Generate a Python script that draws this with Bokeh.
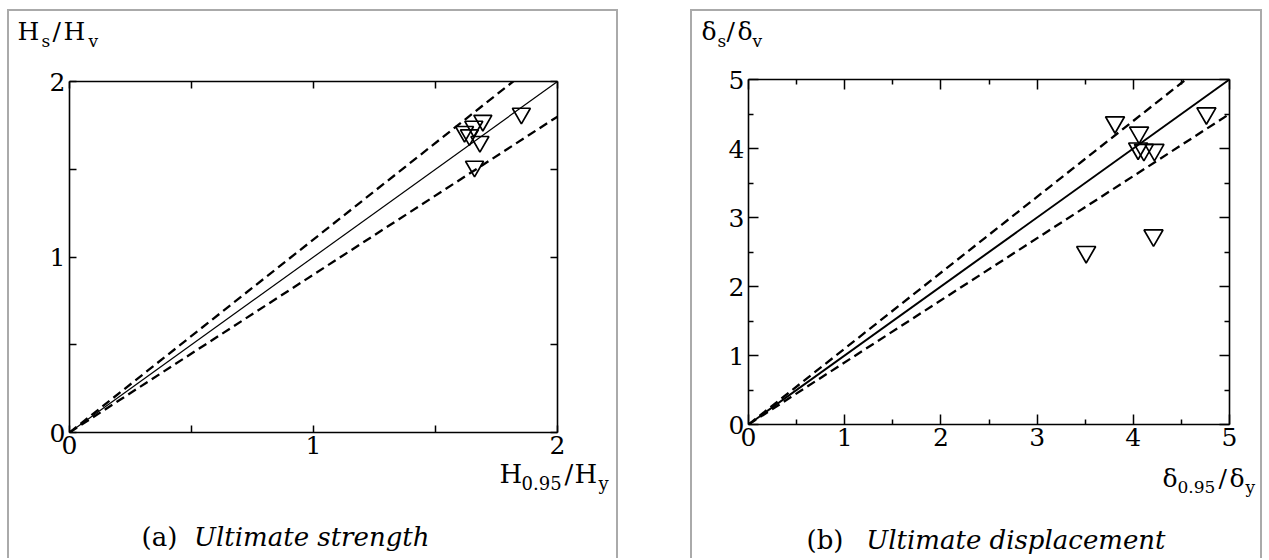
from bokeh.plotting import figure
from bokeh.models import (LinearAxis, FixedTicker, CustomJSTickFormatter, Range1d,
                          Spacer, ColumnDataSource, Column)
from bokeh.layouts import row
from bokeh.embed import file_html
from bokeh.resources import INLINE
from bokeh.core.properties import value

# ---------------- data ----------------
# (a) Ultimate strength: H0.95/Hy vs Hs/Hv
a_x = [1.852, 1.694, 1.619, 1.639, 1.657, 1.682, 1.660]
a_y = [1.818, 1.777, 1.714, 1.695, 1.744, 1.657, 1.516]
# (b) Ultimate displacement: d0.95/dy vs ds/dv
b_x = [3.81, 4.06, 4.05, 4.11, 4.22, 4.76, 3.51, 4.21]
b_y = [4.38, 4.23, 4.00, 3.98, 3.98, 4.51, 2.50, 2.74]
# reference lines: y = 1.0x (solid), 1.1x and 0.9x (dashed)
ref_slopes = [1.0, 1.1, 0.9]
a_lim = 2
b_lim = 5
a_ticks = [0, 1, 2]
a_minor = [0.5, 1.5]
b_ticks = [0, 1, 2, 3, 4, 5]
b_minor = [0.5, 1.5, 2.5, 3.5, 4.5]

FONT = "DejaVu Serif"
AXIS_BOTTOM = 52   # space below the frame of each main plot (tick labels)
BASELINE_FIX = 0.35  # observed downward drift of text glyphs, in em


def strip(width, height, items, styles=None):
    """A text-only figure whose frame is the whole canvas (1 unit = 1 px, y downward)."""
    s = figure(width=width, height=height, x_range=Range1d(0, width),
               y_range=Range1d(height, 0), x_axis_location=None, y_axis_location=None,
               output_backend="svg", toolbar_location=None, min_border=0,
               frame_align=False,
               background_fill_color=None, border_fill_color=None)
    s.outline_line_color = None
    for g in s.grid:
        g.visible = False
    if styles:
        s.styles = styles
    if items:
        src = ColumnDataSource(dict(
            x=[i[1] for i in items], y=[i[2] for i in items], text=[i[0] for i in items],
            size=[f"{i[3]}px" for i in items], style=[i[4] for i in items],
            align=[i[5] for i in items]))
        s.text(x="x", y="y", text="text", source=src, text_font=value(FONT),
               text_font_size="size", text_font_style="style", text_align="align",
               text_baseline="alphabetic", text_color="black")
    return s


def main_plot(xs, ys, lim, ticks, minor, fw, fh, bl, bt, br, bb,
              tick_in, minor_in, solid_w, msize):
    p = figure(frame_width=fw, frame_height=fh,
               x_range=Range1d(0, lim), y_range=Range1d(0, lim),
               x_axis_location=None, y_axis_location=None,
               output_backend="svg", toolbar_location=None,
               min_border_left=bl, min_border_right=br,
               min_border_top=bt, min_border_bottom=bb,
               frame_align=False,
               background_fill_color="white", border_fill_color="white")
    p.outline_line_color = None
    for g in p.grid:
        g.visible = False
    for loc in ["below", "left", "above", "right"]:
        ax = LinearAxis(ticker=FixedTicker(ticks=ticks, minor_ticks=minor))
        ax.axis_line_width = 1.6
        ax.axis_line_color = "black"
        ax.major_tick_in = tick_in
        ax.major_tick_out = 0
        ax.minor_tick_in = minor_in
        ax.minor_tick_out = 0
        ax.major_tick_line_width = 1.5
        ax.minor_tick_line_width = 1.5
        ax.major_label_text_font = FONT
        ax.major_label_text_color = "black"
        if loc in ("above", "right"):
            ax.formatter = CustomJSTickFormatter(code="return ''")
            ax.major_label_text_font_size = "0px"
            ax.major_label_standoff = 0
        else:
            ax.major_label_text_font_size = "25px"
            ax.major_label_standoff = 3 if loc == "below" else 4
        p.add_layout(ax, loc)

    line_x = [0, lim]
    for s, dash, w in zip(ref_slopes, ["solid", "9 5", "9 5"], [solid_w, 2.3, 2.3]):
        p.line(line_x, [s * v for v in line_x], line_color="black",
               line_width=w, line_dash=dash)

    p.scatter(xs, ys, marker="inverted_triangle", size=msize,
              fill_color=None, line_color="black", line_width=1.7)
    return p


def shift(items, ox, oy):
    return [(t, x - ox, y - oy - BASELINE_FIX * s, s, st, al)
            for (t, x, y, s, st, al) in items]


# ----- titles / captions, given in page pixels: (text, x, baseline y, size, style, align)
a_top = [
    ("H", 17, 40, 25, "normal", "left"),
    ("s", 41, 46, 17, "normal", "left"),
    ("/", 52, 40, 25, "normal", "left"),
    ("H", 63, 40, 25, "normal", "left"),
    ("v", 88, 46, 17, "normal", "left"),
]
a_bottom = [
    ("H", 499, 483, 26, "normal", "left"),
    ("0.95", 521, 489, 18, "normal", "left"),
    ("/", 564, 483, 26, "normal", "left"),
    ("H", 574, 483, 26, "normal", "left"),
    ("y", 598, 489, 18, "normal", "left"),
    ("(a)", 141, 546, 26, "normal", "left"),
    ("Ultimate strength", 429, 546, 26, "italic", "right"),
]
b_top = [
    ("δ", 701, 40, 25, "normal", "left"),
    ("s", 717, 46, 17, "normal", "left"),
    ("/", 726, 40, 25, "normal", "left"),
    ("δ", 737, 40, 25, "normal", "left"),
    ("v", 752, 46, 17, "normal", "left"),
]
b_bottom = [
    ("δ", 1162, 487, 25, "normal", "left"),
    ("0.95", 1177, 492, 17, "normal", "left"),
    ("/", 1218, 487, 25, "normal", "left"),
    ("δ", 1229, 487, 25, "normal", "left"),
    ("y", 1245, 492, 17, "normal", "left"),
    ("(b)", 806, 549, 26, "normal", "left"),
    ("Ultimate displacement", 1165, 549, 26, "italic", "right"),
]

border = {"border-top": "2px solid #aaaaaa", "border-left": "2px solid #aaaaaa",
          "border-right": "2px solid #aaaaaa"}
PAGE_BOTTOM = 558

# ----- panel (a): inner content starts at page (9, 11), width 607
A_X0, A_Y0, A_W = 9, 11, 607
A_TOP_H, A_MT = 58, 12
A_STRIP_Y = 454     # where the lower strip starts on the page
ta = strip(A_W, A_TOP_H, shift(a_top, A_X0, A_Y0))
pa = main_plot(a_x, a_y, a_lim, a_ticks, a_minor, 488, 351, 60, A_MT, 59, AXIS_BOTTOM,
               7, 7, 1.2, 18)
a_flow = A_Y0 + A_TOP_H + A_MT + 351 + AXIS_BOTTOM
ba = strip(A_W, PAGE_BOTTOM - A_STRIP_Y, shift(a_bottom, A_X0, A_STRIP_Y),
           styles={"margin-top": f"-{a_flow - A_STRIP_Y}px"})
col_a = Column(children=[ta, pa, ba], styles=border)

# ----- panel (b): inner content starts at page (692, 11), width 568
B_X0, B_Y0, B_W = 692, 11, 568
B_TOP_H, B_MT = 56, 12
B_STRIP_Y = 460
tb = strip(B_W, B_TOP_H, shift(b_top, B_X0, B_Y0))
pb = main_plot(b_x, b_y, b_lim, b_ticks, b_minor, 481, 345, 56, B_MT, 31, AXIS_BOTTOM,
               10, 5, 2.0, 19)
b_flow = B_Y0 + B_TOP_H + B_MT + 345 + AXIS_BOTTOM
bb = strip(B_W, PAGE_BOTTOM - B_STRIP_Y, shift(b_bottom, B_X0, B_STRIP_Y),
           styles={"margin-top": f"-{b_flow - B_STRIP_Y}px"})
col_b = Column(children=[tb, pb, bb], styles=border)

layout = Column(children=[Spacer(height=9),
                          row(Spacer(width=7), col_a, Spacer(width=72), col_b)])
open("out.html", "w").write(file_html(layout, INLINE))
